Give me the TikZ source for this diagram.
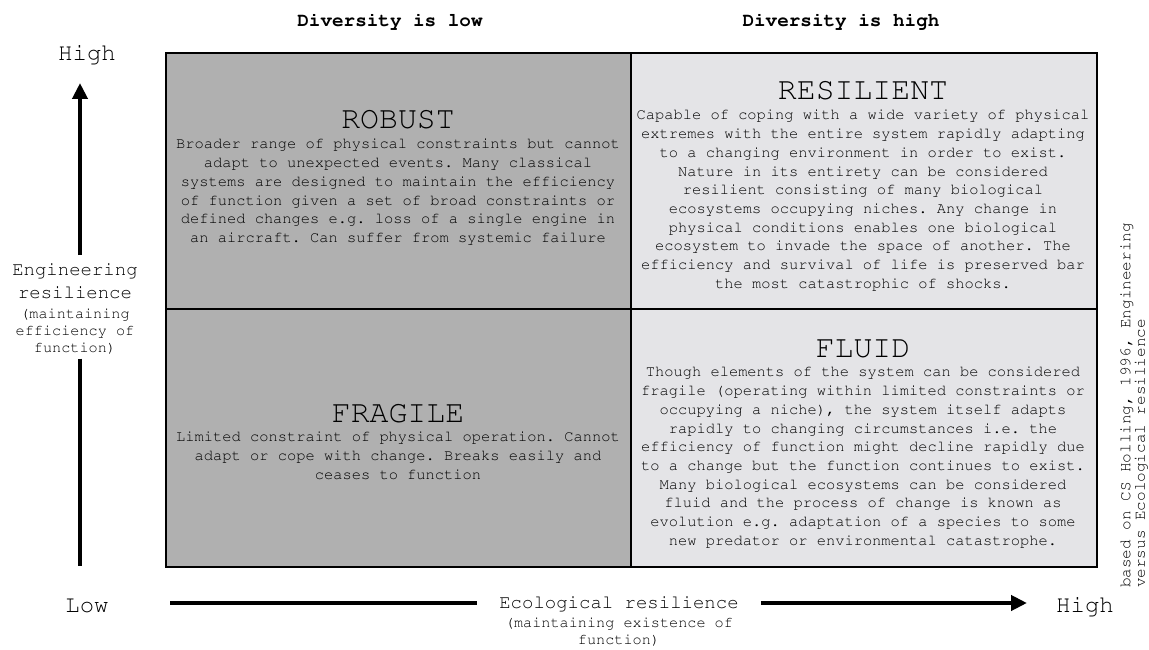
\documentclass[tikz,border=0pt]{standalone}
\usepackage[T1]{fontenc}
\usepackage{courier}
\usetikzlibrary{arrows.meta,positioning}
\definecolor{cellDark}{RGB}{176,176,176}
\definecolor{cellLight}{RGB}{228,228,231}
\tikzset{
  strutted/.style={inner sep=0pt, execute at begin node=\strut, execute at end node=\strut},
  celltitle/.style={font=\ttfamily\fontsize{31.5}{33}\selectfont, inner sep=0pt, anchor=base},
  celltext/.style={strutted, font=\ttfamily\frenchspacing\fontsize{15.4}{18.7}\selectfont, align=center, anchor=north, below=9.9pt of #1.base},
  headtext/.style={font=\ttfamily\bfseries\fontsize{19.3}{21}\selectfont, inner sep=0pt, anchor=base},
  endtext/.style={font=\ttfamily\fontsize{24}{26}\selectfont, inner sep=0pt, anchor=base},
  axistext/.style={strutted, font=\ttfamily\fontsize{19}{23}\selectfont, align=center},
  axisnote/.style={strutted, font=\ttfamily\fontsize{15.2}{17}\selectfont, align=center},
  axisline/.style={line width=4pt, -{Triangle[length=16pt,width=15pt]}},
  plainline/.style={line width=4pt}
}
\begin{document}
\begin{tikzpicture}[x=1pt, y=-1pt, line join=miter]
\def\xl{166}
\def\xm{631}
\def\xr{1097}
\def\yt{53}
\def\ym{309}
\def\yb{567}
\useasboundingbox (0,0) rectangle (1149,650);
\fill[cellDark] (\xl,\yt) rectangle (\xm,\yb);
\fill[cellLight] (\xm,\yt) rectangle (\xr,\yb);
\draw[line width=2.6pt] (\xl,\yt)--(\xr,\yt)--(\xr,\yb)--(\xl,\yb)--cycle;
\draw[line width=2.6pt] (\xm,\yt)--(\xm,\yb) (\xl,\ym)--(\xr,\ym);
\node[headtext] (divlow) at (390,27) {Diversity is low};
\node[headtext] (divhigh) at (841,27) {Diversity is high};
\node[celltitle] (robust) at (398,129) {ROBUST};
\node[celltext=robust] (robusttext) {Broader range of physical constraints but cannot\\
adapt to unexpected events. Many classical\\
systems are designed to maintain the efficiency\\
of function given a set of broad constraints or\\
defined changes e.g. loss of a single engine in\\
an aircraft. Can suffer from systemic failure};
\node[celltitle] (resilient) at (863,100) {RESILIENT};
\node[celltext=resilient] (resilienttext) {Capable of coping with a wide variety of physical\\
extremes with the entire system rapidly adapting\\
to a changing environment in order to exist.\\
Nature in its entirety can be considered\\
resilient consisting of many biological\\
ecosystems occupying niches. Any change in\\
physical conditions enables one biological\\
ecosystem to invade the space of another. The\\
efficiency and survival of life is preserved bar\\
the most catastrophic of shocks.};
\node[celltitle] (fragile) at (398,422) {FRAGILE};
\node[celltext=fragile] (fragiletext) {Limited constraint of physical operation. Cannot\\
adapt or cope with change. Breaks easily and\\
ceases to function};
\node[celltitle] (fluid) at (863,357) {FLUID};
\node[celltext=fluid] (fluidtext) {Though elements of the system can be considered\\
fragile (operating within limited constraints or\\
occupying a niche), the system itself adapts\\
rapidly to changing circumstances i.e. the\\
efficiency of function might decline rapidly due\\
to a change but the function continues to exist.\\
Many biological ecosystems can be considered\\
fluid and the process of change is known as\\
evolution e.g. adaptation of a species to some\\
new predator or environmental catastrophe.};
\node[endtext] (enghigh) at (87,61) {High};
\node[endtext] (englow) at (87,612) {Low};
\node[endtext] (ecohigh) at (1085,612) {High};
\node[axistext, anchor=north] (eng) at (75,263) {Engineering\\resilience};
\node[axisnote, anchor=north, below=3pt of eng] (engnote) {(maintaining\\efficiency of\\function)};
\coordinate (vtop) at (80,83);
\coordinate (vlow) at (80,566);
\draw[plainline, shorten <=1pt] (engnote.south -| vlow) -- (vlow);
\draw[axisline, shorten <=8pt] (eng.north -| vtop) -- (vtop);
\node[axistext, anchor=base, inner xsep=22pt] (eco) at (619,608) {Ecological resilience};
\node[axisnote, anchor=north] (econote) at (619,618) {(maintaining existence of\\function)};
\coordinate (hleft) at (170,603);
\coordinate (hright) at (1027,603);
\draw[plainline] (hleft) -- (hleft -| eco.west);
\draw[axisline] (hleft -| eco.east) -- (hright);
\node[strutted, font=\ttfamily\fontsize{16}{14.5}\selectfont, align=left, rotate=90, anchor=north west] (source) at (1120,588) {based on CS Holling, 1996, Engineering\\versus Ecological resilience};
\end{tikzpicture}
\end{document}
